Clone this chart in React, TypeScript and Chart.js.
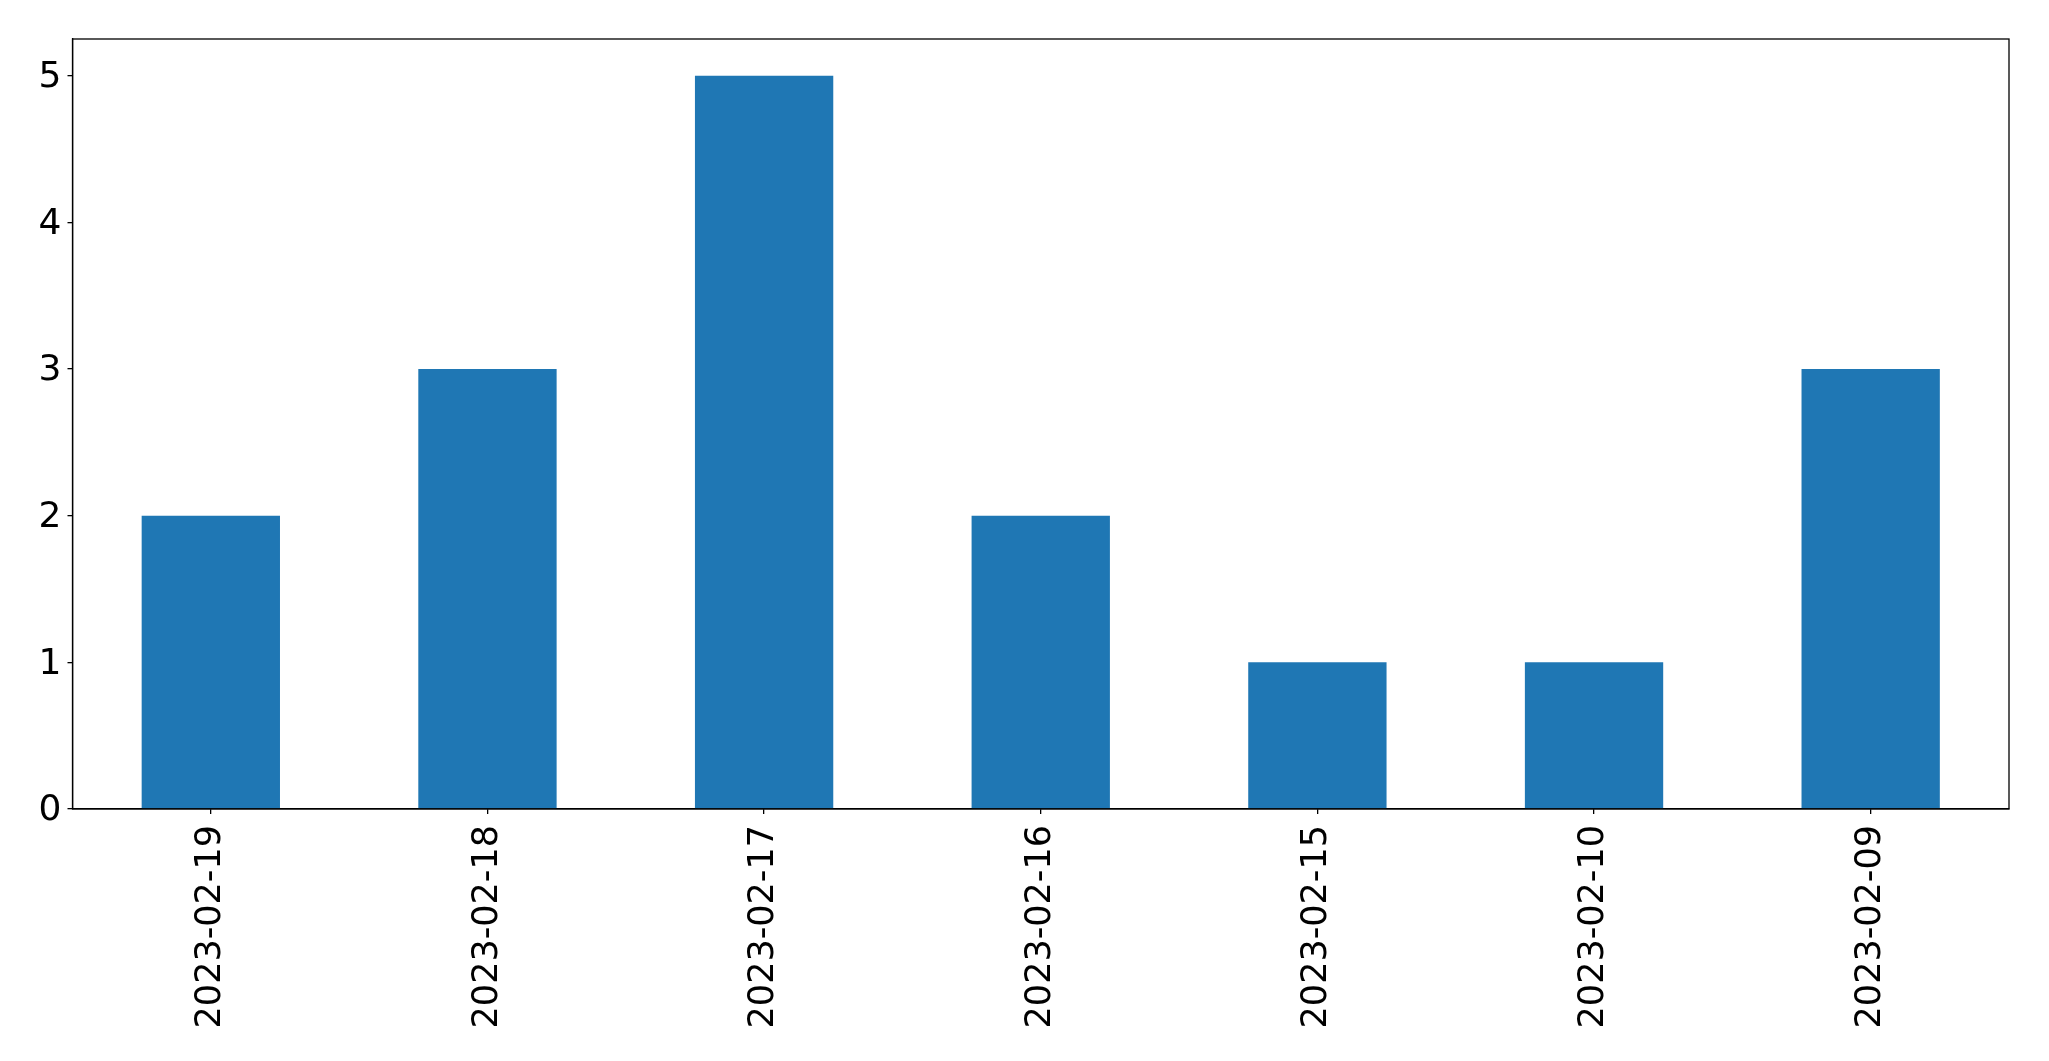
import React, { useEffect, useRef } from "react";
import { Chart, registerables } from "chart.js";

Chart.register(...registerables);

const categories = ["2023-02-19", "2023-02-18", "2023-02-17", "2023-02-16", "2023-02-15", "2023-02-10", "2023-02-09"];
const counts = [2, 3, 5, 2, 1, 1, 3];
const yTicks = [0, 1, 2, 3, 4, 5];
const yMin = 0;
const yMax = 5.25;

const W = 2049;
const H = 1061;

const frame = {
  id: "frame",
  afterDatasetsDraw(chart: any) {
    const { ctx, chartArea } = chart;
    ctx.save();
    ctx.strokeStyle = "#000";
    ctx.lineWidth = 1.3;
    ctx.strokeRect(chartArea.left, chartArea.top, chartArea.right - chartArea.left, chartArea.bottom - chartArea.top);
    ctx.restore();
  },
};

export default function App() {
  const ref = useRef<HTMLCanvasElement | null>(null);
  useEffect(() => {
    if (!ref.current) return;
    const chart = new Chart(ref.current, {
      type: "bar",
      data: {
        labels: categories,
        datasets: [
          {
            data: counts,
            backgroundColor: "#1f77b4",
            borderWidth: 0,
            barPercentage: 0.5,
            categoryPercentage: 1,
          },
        ],
      },
      options: {
        animation: false,
        responsive: false,
        maintainAspectRatio: false,
        layout: { padding: { left: 0, top: 39, right: 40, bottom: 0 } },
        plugins: { legend: { display: false }, tooltip: { enabled: false } },
        scales: {
          x: {
            offset: true,
            grid: { display: true, drawOnChartArea: false, drawTicks: true, tickLength: 5, color: "#000", offset: false, lineWidth: 1.3 },
            border: { display: true, color: "#000", width: 1.3 },
            ticks: { color: "#000", font: { family: "'DejaVu Sans', sans-serif", size: 35 }, minRotation: 90, maxRotation: 90, padding: 11, autoSkip: false },
            afterFit: (s: any) => { s.height = H - 809; },
          },
          y: {
            min: yMin,
            max: yMax,
            grid: { display: true, drawOnChartArea: false, drawTicks: true, tickLength: 5, color: "#000", lineWidth: 1.3 },
            border: { display: true, color: "#000", width: 1.3 },
            ticks: { color: "#000", font: { family: "'DejaVu Sans', sans-serif", size: 36 }, padding: 6, labelOffset: 2 },
            afterBuildTicks: (s: any) => { s.ticks = yTicks.map((v) => ({ value: v })); },
            afterFit: (s: any) => { s.width = 72.5; },
          },
        },
      },
      plugins: [frame],
    });
    return () => chart.destroy();
  }, []);
  return (
    <div style={{ position: "fixed", left: 0, top: 0, width: W, height: H, background: "#fff" }}>
      <canvas ref={ref} width={W} height={H} style={{ width: W, height: H, display: "block" }} />
    </div>
  );
}
